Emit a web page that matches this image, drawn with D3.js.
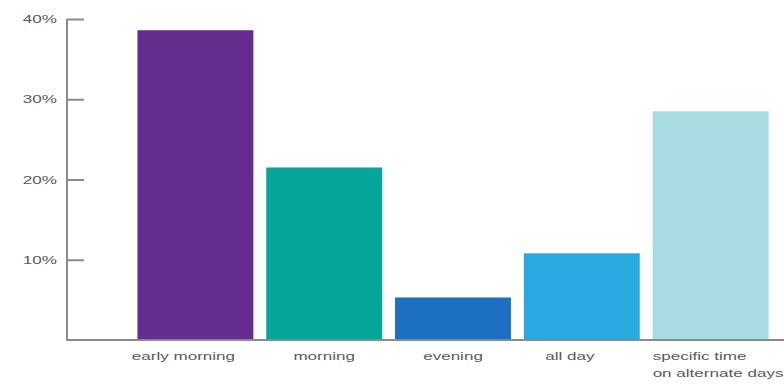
<!DOCTYPE html>
<html>
<head>
<meta charset="utf-8">
<script src="https://cdn.jsdelivr.net/npm/d3@7"></script>
<style>
  html, body { margin: 0; padding: 0; background: #fff; }
  svg { display: block; }
  text { font-family: "Liberation Sans", Arial, sans-serif; fill: #5a5a5a; }
</style>
</head>
<body>
<svg id="chart" width="784" height="392"></svg>
<script>
// Share of respondents by preferred time
const categories = ["early morning", "morning", "evening", "all day", "specific time\non alternate days"];
const values = [38.6, 21.5, 5.3, 10.8, 28.5];
const colors = ["#652c90", "#08a59a", "#1c6fc1", "#28a9e0", "#a8dbe2"];
const yTicks = [10, 20, 30, 40];

const svg = d3.select("#chart");
const axisX = 67, baseY = 340, topY = 19;

const y = d3.scaleLinear().domain([0, 40]).range([baseY, topY]);
const x = d3.scaleBand().domain(categories).range([131, 775])
  .paddingInner(0.1).paddingOuter(0.05);

// stretch text horizontally
const stretch = 1.55;
function widen(sel) {
  sel.each(function () {
    const w = this.getComputedTextLength();
    d3.select(this).attr("textLength", w * stretch).attr("lengthAdjust", "spacingAndGlyphs");
  });
}

// bars
svg.selectAll("rect.bar").data(categories).join("rect")
  .attr("class", "bar")
  .attr("x", d => x(d))
  .attr("width", x.bandwidth())
  .attr("y", (d, i) => y(values[i]))
  .attr("height", (d, i) => baseY - y(values[i]))
  .attr("fill", (d, i) => colors[i]);

// y axis: line, inward ticks, labels
const yAxis = d3.axisRight(y).tickValues(yTicks).tickSize(17).tickFormat("");
const gy = svg.append("g").attr("transform", `translate(${axisX},0)`).call(yAxis);
gy.select(".domain").remove();
gy.selectAll(".tick line").attr("stroke", "#8a8a8a").attr("stroke-width", 2);
svg.append("line").attr("x1", axisX).attr("x2", axisX).attr("y1", y(40)).attr("y2", baseY + 1)
  .attr("stroke", "#8a8a8a").attr("stroke-width", 2);

svg.selectAll("text.ylab").data(yTicks).join("text")
  .attr("class", "ylab")
  .attr("x", 57).attr("y", d => y(d) + 4)
  .attr("text-anchor", "end")
  .attr("font-size", 11)
  .text(d => d + "%")
  .call(widen);

// x baseline
svg.append("line").attr("x1", axisX - 1).attr("x2", 784).attr("y1", baseY).attr("y2", baseY)
  .attr("stroke", "#8a8a8a").attr("stroke-width", 2);

// category labels
const xl = svg.selectAll("text.xlab").data(categories).join("text")
  .attr("class", "xlab")
  .attr("font-size", 11)
  .attr("text-anchor", (d, i) => i === categories.length - 1 ? "start" : "middle")
  .attr("transform", (d, i) => {
    const px = i === categories.length - 1 ? x(d) : x(d) + x.bandwidth() / 2 - (i % 3 === 0 ? 12 : 0);
    return `translate(${px},${baseY + 20})`;
  });
xl.selectAll("tspan").data(d => d.split("\n")).join("tspan")
  .attr("x", 0).attr("dy", (d, i) => i === 0 ? 0 : 17)
  .text(d => d)
  .call(widen);
</script>
</body>
</html>
